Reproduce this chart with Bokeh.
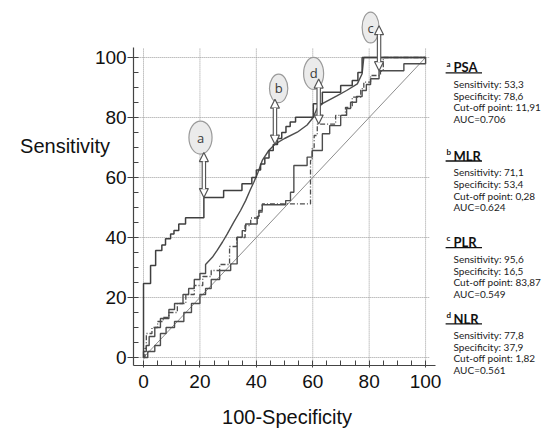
from bokeh.plotting import figure
from bokeh.models import Range1d, FixedTicker, Arrow, NormalHead, ColumnDataSource, Label
from bokeh.core.properties import value
from bokeh.embed import file_html
from bokeh.resources import INLINE

# ---------------- data ----------------
tick_vals = [0, 20, 40, 60, 80, 100]
minor_vals = [0, 5, 10, 15, 20, 25, 30, 35, 40, 45, 50, 55, 60, 65, 70, 75, 80, 85, 90, 95, 100]

# ROC curves: (100-Specificity, Sensitivity); step curves are given as rise points
psa_x = [0, 0, 2.5, 4.3, 6.5, 7.8, 9.6, 10.8, 12.5, 14.9, 21.4, 28.4, 34.9, 38.4, 40, 41.5, 43, 44.5, 46, 47.5,
         49, 50.5, 52, 53.9, 60.2, 63.4, 69.9, 74, 76, 77.5, 100]
psa_y = [0, 24.7, 30.7, 35.7, 37.5, 39.6, 41.2, 42.3, 44.5, 46.6, 53.3, 55.7, 57.9, 60, 62.5, 64.5, 66.5, 69, 71, 73,
         75, 77, 78.5, 80.1, 84.6, 88.4, 90.7, 92.3, 95, 100, 100]

mlr_x = [0, 0, 1, 1, 2, 2, 4, 4, 6, 6, 9, 9, 11, 11, 14, 14, 16, 16, 18, 18, 20, 20, 22, 22, 24.4, 26.1, 28, 29.7,
         32, 34.4, 36.2, 37.9, 39.1, 40.5, 42.1, 44.4, 46.6, 50, 54.5, 58, 60.2, 61.5, 63.4, 68.7, 72, 75.8, 77.5,
         78.1, 100]
mlr_y = [0, 2, 2, 4, 4, 7, 7, 10, 10, 13, 13, 16, 16, 18, 18, 21, 21, 23, 23, 26, 26, 28, 28, 31, 33.4, 35.7, 38.5,
         41.2, 45.1, 49, 52.3, 56, 58.4, 61.5, 65.7, 69, 71.1, 73, 75.1, 77.5, 80.1, 83, 84.6, 87.3, 89, 91.2, 94.6,
         100, 100]

plr_x = [0, 1.5, 4, 6, 8, 11, 14.3, 17, 20, 22, 24, 27, 30.9, 33.2, 35, 36.2, 40.3, 40.9, 42.1, 50.4, 52.1, 53.3,
         58, 59.8, 63.4, 66, 69.9, 72, 73.4, 75.5, 77.5, 79, 80.5, 83.5, 92.3, 100]
plr_y = [0, 2, 4, 8, 10, 12, 15, 18, 21, 23, 26, 29, 31.2, 40.1, 42.3, 44.5, 47, 49, 50.9, 52.3, 55.1, 64, 66.8,
         69, 74.6, 77.3, 80.7, 83, 85.1, 87, 89, 91, 92.9, 95.6, 97.9, 100]

nlr_x = [0, 0.5, 1, 3, 5, 7, 9, 12, 15, 18, 21, 24, 27, 30.5, 33, 36, 38, 41, 42.1, 59.2, 59.8, 60.5, 61.6, 68.1,
         71.6, 74, 77, 78.1, 80.5, 84, 85, 100]
nlr_y = [0, 3, 8, 10, 12, 13.4, 15, 18, 21, 24, 27, 29, 31, 37, 40, 44, 46.5, 48.5, 51.2, 65.7, 70, 74, 77.8, 80.7,
         83.4, 86.8, 89.6, 91.8, 94, 95.5, 100, 100]

diag_x = [0, 100]
diag_y = [0, 100]

markers = ["PSA", "MLR", "PLR", "NLR"]
letters = ["a", "b", "c", "d"]
sensitivity = [53.3, 71.1, 95.6, 77.8]
specificity = [78.6, 53.4, 16.5, 37.9]
cutoff = ["11,91", "0,28", "83,87", "1,82"]
auc = ["0.706", "0.624", "0.549", "0.561"]

# ---------------- layout ----------------
X0, X1, Y0, Y1 = -50.7, 141.8, -24.0, 119.0      # whole canvas is the frame
AXX, AXY = -3.5, -2.7                             # where the axes sit
AX_X_END, AX_Y_END = 103.5, 103.3
CURVE = "#4d4d4d"
FONT_AX = "Liberation Sans"
FONT_T = "Lato"

p = figure(width=543, height=429, x_range=Range1d(X0, X1), y_range=Range1d(Y0, Y1),
           output_backend="svg", toolbar_location=None,
           min_border_left=0, min_border_right=0, min_border_top=0, min_border_bottom=0)
p.outline_line_color = None
p.xgrid.visible = False
p.ygrid.visible = False
p.background_fill_color = "white"
p.border_fill_color = "white"

for ax, b in ((p.xaxis, (AXX, AX_X_END)), (p.yaxis, (AXY, AX_Y_END))):
    ax.ticker = FixedTicker(ticks=tick_vals, minor_ticks=minor_vals)
    ax.bounds = b
    ax.axis_line_color = "#444444"
    ax.axis_line_width = 1.2
    ax.major_tick_line_color = "#444444"
    ax.minor_tick_line_color = "#444444"
    ax.major_label_text_font = FONT_AX
    ax.major_label_text_font_size = "19px"
    ax.major_label_text_color = "#111111"
    ax.minor_tick_in = 5
    ax.minor_tick_out = 0

p.xaxis.fixed_location = AXY
p.yaxis.fixed_location = AXX
p.xaxis.major_tick_in = 4
p.xaxis.major_tick_out = 2
p.xaxis.major_label_standoff = 7
p.yaxis.major_tick_in = 0
p.yaxis.major_tick_out = 6
p.yaxis.major_label_standoff = 1

# dotted grid
p.segment(x0=tick_vals, y0=[AXY] * len(tick_vals), x1=tick_vals, y1=[AX_Y_END] * len(tick_vals),
          line_color="#9c9c9c", line_width=1, line_dash="1 1")
p.segment(x0=[AXX] * len(tick_vals), y0=tick_vals, x1=[101.5] * len(tick_vals), y1=tick_vals,
          line_color="#9c9c9c", line_width=1, line_dash="1 1")

# diagonal reference
p.line(diag_x, diag_y, line_color="#808080", line_width=0.9)

# ROC curves
p.step(plr_x, plr_y, mode="after", line_color=CURVE, line_width=1.4)
p.step(nlr_x, nlr_y, mode="after", line_color=CURVE, line_width=1.3, line_dash="5 2 1 2")
p.line(mlr_x, mlr_y, line_color=CURVE, line_width=1.4)
p.step(psa_x, psa_y, mode="after", line_color="#3f3f3f", line_width=1.5)

# bubbles + arrows pointing at the cut-off points
px = [100 - s for s in specificity]
arrow_len = 15.0
bubble_dx = [-1.2, 1.3, -3.0, -1.8]
bubble_dy = [20.0, 18.6, 14.4, 16.9]
bubble_w = [8.2, 6.5, 6.0, 7.1]
bubble_h = [11.0, 9.5, 10.3, 10.7]
bx = [x + d for x, d in zip(px, bubble_dx)]
by = [s + d for s, d in zip(sensitivity, bubble_dy)]
p.ellipse(x=bx, y=by, width=bubble_w, height=bubble_h, fill_color="#ebebeb",
          line_color="#9a9a9a", line_width=1.2)
p.text(x=bx, y=by, text=letters, text_align="center", text_baseline="middle",
       text_font=value("Open Sans"), text_font_size="13px", text_color="#3a3a3a")

asrc = ColumnDataSource(dict(x=px, y0=sensitivity, y1=[s + arrow_len for s in sensitivity]))
head_u = 2.9
isrc = ColumnDataSource(dict(x=px, y0=[s + head_u for s in sensitivity],
                             y1=[s + arrow_len - head_u for s in sensitivity]))
p.add_layout(Arrow(x_start="x", y_start="y0", x_end="x", y_end="y1", source=asrc,
                   line_color="#555555", line_width=4.5,
                   start=NormalHead(size=9, fill_color="white", line_color="#555555", line_width=1.2),
                   end=NormalHead(size=9, fill_color="white", line_color="#555555", line_width=1.2)))
p.add_layout(Arrow(x_start="x", y_start="y0", x_end="x", y_end="y1", source=isrc,
                   line_color="white", line_width=2.2, start=None, end=None))

# right-hand annotation blocks
title_y = [96.7, 67.3, 38.4, 13.0]
sup_x, name_x, line_x = 107.4, 109.9, 109.9
ul_x0, ul_x1 = 107.1, 120.0
first_off, step_off = 5.5, 3.9
p.text(x=[sup_x] * 4, y=[t + 1.3 for t in title_y], text=letters, text_align="left",
       text_baseline="middle", text_font=value(FONT_T), text_font_style="bold",
       text_font_size="8px", text_color="#111111")
p.text(x=[name_x] * 4, y=title_y, text=markers, text_align="left", text_baseline="middle",
       text_font=value(FONT_T), text_font_style="bold", text_font_size="13px", text_color="#111111")
p.segment(x0=[ul_x0] * 4, y0=[t - 1.8 for t in title_y], x1=[ul_x1] * 4, y1=[t - 1.8 for t in title_y],
          line_color="#111111", line_width=1.3)
lines_x, lines_y, lines_t = [], [], []
for i in range(4):
    rows = [f"Sensitivity: {sensitivity[i]:.1f}".replace(".", ","),
            f"Specificity: {specificity[i]:.1f}".replace(".", ","),
            f"Cut-off point: {cutoff[i]}",
            f"AUC={auc[i]}"]
    for k, r in enumerate(rows):
        lines_x.append(line_x)
        lines_y.append(title_y[i] - first_off - step_off * k)
        lines_t.append(r)
p.text(x=lines_x, y=lines_y, text=lines_t, text_align="left", text_baseline="middle",
       text_font=value(FONT_T), text_font_size="10px", text_color="#222222")

# axis titles
p.add_layout(Label(x=-27.8, y=70.5, text="Sensitivity", text_align="center", text_baseline="middle",
                   text_font=FONT_AX, text_font_size="20px", text_color="#111111"))
p.add_layout(Label(x=50.9, y=-19.8, text="100-Specificity", text_align="center",
                   text_baseline="middle", text_font=FONT_AX, text_font_size="20px",
                   text_color="#111111"))

open("out.html", "w").write(file_html(p, INLINE))
